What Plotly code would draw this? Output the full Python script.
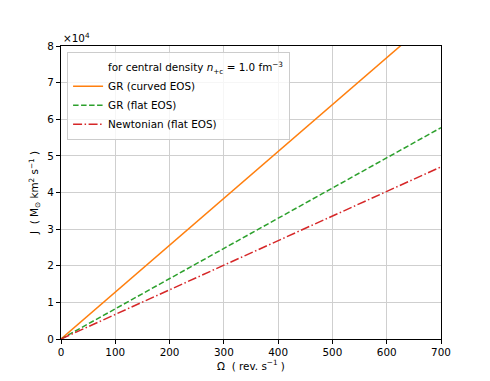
import plotly.graph_objects as go

# angular velocity (rev/s) and angular momentum J (Msun km^2 s^-1)
omega = [0, 100, 200, 300, 400, 500, 600, 700]
j_gr_curved = [0, 12800, 25600, 38400, 51200, 64000, 76800, 89600]
j_gr_flat = [0, 8240, 16480, 24720, 32960, 41200, 49440, 57700]
j_newton_flat = [0, 6700, 13400, 20100, 26800, 33500, 40200, 47000]

y_ticks = [0, 10000, 20000, 30000, 40000, 50000, 60000, 70000, 80000]
y_ticktext = ["0", "1", "2", "3", "4", "5", "6", "7", "8"]

fs = 10.4

fig = go.Figure()

# text-only legend entry
fig.add_trace(go.Scatter(
    x=[None], y=[None], mode="lines",
    line=dict(color="rgba(0,0,0,0)", width=1.5),
    name="for central density <i>n</i><sub>+c</sub> = 1.0 fm<sup>−3</sup>",
))
fig.add_trace(go.Scatter(x=omega, y=j_gr_curved, mode="lines",
                         line=dict(color="#ff7f0e", width=1.5),
                         name="GR (curved EOS)"))
fig.add_trace(go.Scatter(x=omega, y=j_gr_flat, mode="lines",
                         line=dict(color="#2ca02c", width=1.5, dash="5.5px,2.5px"),
                         name="GR (flat EOS)"))
fig.add_trace(go.Scatter(x=omega, y=j_newton_flat, mode="lines",
                         line=dict(color="#d62728", width=1.5, dash="9px,2.5px,1.5px,2.5px"),
                         name="Newtonian (flat EOS)"))

axis_common = dict(
    showline=True, linecolor="black", linewidth=1, mirror=True,
    ticks="outside", ticklen=4, tickcolor="black",
    showgrid=True, gridcolor="#cfcfcf", gridwidth=1,
    zeroline=False, automargin=False,
    tickfont=dict(size=fs, color="black"),
)

fig.update_xaxes(range=[0, 700], tickvals=omega,
                 title=dict(text="Ω  ( rev. s<sup>−1</sup> )", font=dict(size=fs), standoff=4),
                 **axis_common)
fig.update_yaxes(range=[0, 80000], tickvals=y_ticks, ticktext=y_ticktext,
                 title=dict(text="J  ( M<sub>⊙</sub> km<sup>2</sup> s<sup>−1</sup> )", font=dict(size=fs), standoff=6),
                 **axis_common)

fig.add_annotation(text="×10<sup>4</sup>", xref="paper", yref="paper",
                   x=0, y=1, xanchor="left", yanchor="bottom", showarrow=False,
                   font=dict(size=fs, color="black"), yshift=0)

# the page body adds an 8px offset, so margins are shifted to compensate
fig.update_layout(
    width=490, height=381,
    margin=dict(l=53, r=57, t=38, b=50),
    paper_bgcolor="white", plot_bgcolor="white",
    font=dict(family="DejaVu Sans", size=fs, color="black"),
    legend=dict(x=0.016, y=0.98, xanchor="left", yanchor="top",
                bgcolor="rgba(255,255,255,0.8)", bordercolor="#cccccc", borderwidth=1,
                font=dict(size=fs), tracegroupgap=0, itemwidth=30),
)

fig.write_html("out.html")
